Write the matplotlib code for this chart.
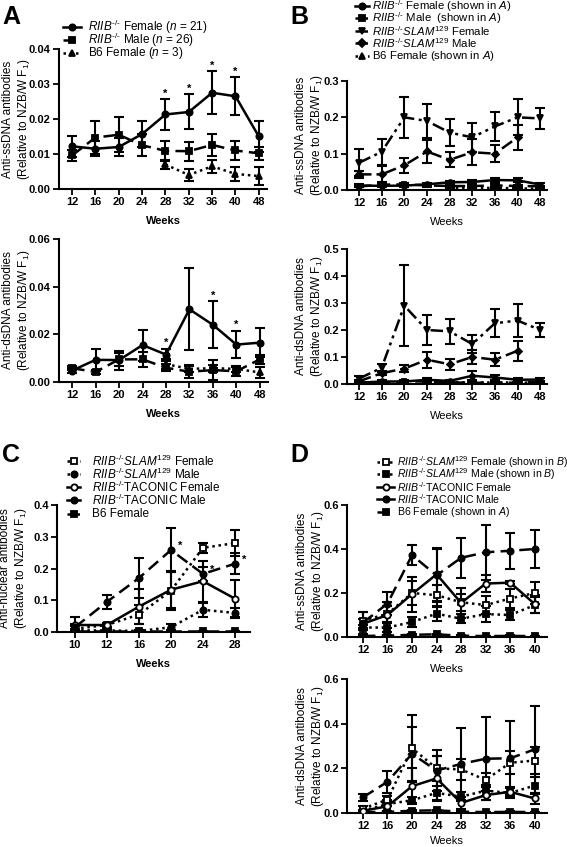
import numpy as np
import matplotlib
matplotlib.use('Agg')
import matplotlib.pyplot as plt
from matplotlib.lines import Line2D

plt.rcParams['font.family'] = ['Liberation Sans', 'DejaVu Sans']
plt.rcParams['mathtext.fontset'] = 'custom'
plt.rcParams['mathtext.rm'] = 'Liberation Sans'
plt.rcParams['mathtext.it'] = 'Liberation Sans:italic'
plt.rcParams['mathtext.bf'] = 'Liberation Sans:bold'

nan = np.nan

# ---------------- data ----------------
weeks_ab = [12, 16, 20, 24, 28, 32, 36, 40, 48]
weeks_c = [10, 12, 16, 20, 24, 28]
weeks_d = [12, 16, 20, 24, 28, 32, 36, 40]

# panel A, anti-ssDNA
ss_f = [0.0122, 0.0115, 0.0120, 0.0157, 0.0213, 0.0220, 0.0275, 0.0265, 0.0150]
ss_f_err = [0.0030, 0.0022, 0.0025, 0.0038, 0.0045, 0.0050, 0.0062, 0.0055, 0.0043]
ss_m = [0.0096, 0.0147, 0.0155, 0.0125, 0.0109, 0.0108, 0.0126, 0.0110, 0.0102]
ss_m_err = [0.0015, 0.0048, 0.0050, 0.0032, 0.0028, 0.0027, 0.0032, 0.0028, 0.0018]
ss_b6 = [nan, nan, nan, nan, 0.0070, 0.0040, 0.0065, 0.0043, 0.0037]
ss_b6_err = [nan, nan, nan, nan, 0.0012, 0.0017, 0.0018, 0.0020, 0.0025]
ss_star = [28, 32, 36, 40]

# panel A, anti-dsDNA
ds_f = [0.0048, 0.0093, 0.0092, 0.0155, 0.0115, 0.0305, 0.0240, 0.0157, 0.0165]
ds_f_err = [0.0010, 0.0047, 0.0040, 0.0065, 0.0025, 0.0172, 0.0098, 0.0058, 0.0060]
ds_m = [0.0058, 0.0042, 0.0095, 0.0095, 0.0060, 0.0043, 0.0050, 0.0045, 0.0095]
ds_m_err = [0.0008, 0.0008, 0.0028, 0.0030, 0.0015, 0.0025, 0.0042, 0.0018, 0.0020]
ds_b6 = [nan, nan, nan, nan, 0.0075, 0.0055, 0.0058, 0.0055, 0.0040]
ds_b6_err = [nan, nan, nan, nan, 0.0020, 0.0015, 0.0015, 0.0012, 0.0022]
ds_star = [28, 36, 40]

# panel B, SLAM129
slam_ss_f = [0.075, 0.105, 0.200, 0.190, 0.158, 0.145, 0.175, 0.200, 0.197]
slam_ss_f_err = [0.037, 0.036, 0.056, 0.047, 0.038, 0.040, 0.041, 0.050, 0.029]
slam_ss_m = [0.043, 0.043, 0.068, 0.106, 0.083, 0.104, 0.100, 0.145, nan]
slam_ss_m_err = [0.010, 0.022, 0.021, 0.031, 0.021, 0.035, 0.023, 0.035, nan]
slam_ds_f = [0.020, 0.060, 0.290, 0.200, 0.195, 0.148, 0.225, 0.235, 0.200]
slam_ds_f_err = [0.010, 0.015, 0.150, 0.056, 0.046, 0.032, 0.052, 0.060, 0.026]
slam_ds_m = [0.010, 0.040, 0.057, 0.090, 0.073, 0.100, 0.090, 0.123, nan]
slam_ds_m_err = [0.005, 0.008, 0.013, 0.030, 0.020, 0.025, 0.023, 0.037, nan]

# panel C, anti-nuclear
ana_slam_f = [0.010, 0.022, 0.055, 0.130, 0.265, 0.280]
ana_slam_f_err = [0.008, 0.006, 0.030, 0.060, 0.015, 0.042]
ana_slam_m = [0.005, 0.005, 0.003, 0.015, 0.070, 0.060]
ana_slam_m_err = [0.003, 0.003, 0.002, 0.010, 0.022, 0.015]
ana_tac_f = [0.022, 0.022, 0.080, 0.133, 0.160, 0.105]
ana_tac_f_err = [0.025, 0.005, 0.055, 0.058, 0.065, 0.058]
ana_tac_m = [0.015, 0.095, 0.170, 0.258, 0.183, 0.215]
ana_tac_m_err = [0.010, 0.023, 0.062, 0.070, 0.022, 0.033]
ana_b6 = [0.002, 0.002, 0.002, 0.002, 0.002, 0.002]
ana_b6_err = [0.001, 0.001, 0.001, 0.001, 0.001, 0.001]
ana_star = [20, 24, 28]

# panel D, TACONIC
tac_ss_f = [0.060, 0.100, 0.195, 0.285, 0.155, 0.243, 0.247, 0.150]
tac_ss_f_err = [0.020, 0.060, 0.080, 0.120, 0.070, 0.040, 0.008, 0.040]
tac_ss_m = [0.065, 0.152, 0.372, 0.280, 0.360, 0.385, 0.392, 0.400]
tac_ss_m_err = [0.050, 0.053, 0.046, 0.120, 0.090, 0.125, 0.083, 0.088]
b6_ss_d = [0.005, 0.006, 0.010, 0.012, 0.006, 0.004, 0.005, 0.004]
tac_ds_f = [0.010, 0.030, 0.120, 0.155, 0.045, 0.080, 0.095, 0.065]
tac_ds_f_err = [0.005, 0.030, 0.080, 0.100, 0.025, 0.020, 0.020, 0.025]
tac_ds_m = [0.070, 0.140, 0.265, 0.190, 0.220, 0.243, 0.245, 0.285]
tac_ds_m_err = [0.015, 0.050, 0.120, 0.090, 0.160, 0.187, 0.165, 0.195]
b6_ds_d = [0.004, 0.005, 0.010, 0.012, 0.006, 0.004, 0.005, 0.004]

# ---------------- styles ----------------
SOLID = '-'
DASH = (0, (5, 2.5))
DOT = (0, (1, 1.5))
DASHDOT = (0, (5, 2, 1.2, 2))
DASHDOTDOT = (0, (5, 1.8, 1.2, 1.8, 1.2, 1.8))

W, H = 567, 847
fig = plt.figure(figsize=(W / 100, H / 100), dpi=100)


def rect(l, r, t, b):
    return [l / W, 1 - b / H, (r - l) / W, (b - t) / H]


def series(ax, y, err, ls, marker, mfc='k', ms=4.5, lw=1.8):
    x = np.arange(len(y))
    y = np.array(y, dtype=float)
    ax.errorbar(x, y, yerr=err, fmt='none', ecolor='k', elinewidth=1.5,
                capsize=3.5, capthick=1.5, zorder=2)
    ax.plot(x, y, color='k', ls=ls, lw=lw, marker=marker, ms=ms,
            mfc=mfc, mec='k', mew=1.3, zorder=3)


def style(ax, weeks, ylim, yticks, yfmt, ylabel, xlim, label_x, bold_weeks=True,
          weeks_pad=6):
    ax.set_xlim(*xlim)
    ax.set_ylim(*ylim)
    ax.set_xticks(np.arange(len(weeks)))
    ax.set_xticklabels([str(w) for w in weeks], fontweight='bold', fontsize=8)
    ax.set_yticks(yticks)
    ax.set_yticklabels([yfmt % v for v in yticks], fontweight='bold', fontsize=8)
    for s in ['top', 'right']:
        ax.spines[s].set_visible(False)
    for s in ['left', 'bottom']:
        ax.spines[s].set_linewidth(1.5)
    ax.tick_params(width=1.3, length=4, pad=2)
    ax.set_ylabel(ylabel, fontsize=8.5, linespacing=1.15)
    # place the two-line label by its centre, in figure pixels
    bb = ax.get_position()
    ax.yaxis.set_label_coords((label_x / W - bb.x0) / bb.width, 0.5)
    ax.yaxis.label.set_va('center')
    ax.set_xlabel('Weeks', fontsize=8, fontweight='bold' if bold_weeks else 'normal',
                  labelpad=weeks_pad)


def stars(ax, weeks, sel, y, err, dy, dx=0.0):
    for w in sel:
        i = weeks.index(w)
        ax.text(i + dx, y[i] + err[i] + dy, '*', ha='center', va='center',
                fontsize=8, fontweight='bold')


def legend(entries, x0, x1, xt, ys, fs=8.2):
    for (ls, marker, mfc, label), y in zip(entries, ys):
        yy = 1 - y / H
        fig.add_artist(Line2D([x0 / W, x1 / W], [yy, yy], transform=fig.transFigure,
                              color='k', ls=ls, lw=1.8))
        fig.add_artist(Line2D([(x0 + x1) / 2 / W], [yy], transform=fig.transFigure,
                              color='k', ls='none', marker=marker, ms=4.5,
                              mfc=mfc, mec='k', mew=1.3))
        fig.text(xt / W, yy, label, ha='left', va='center', fontsize=fs)


RIIB = r'$\mathit{RIIB}^{\text{-/-}}$'
SLAM = r'$\mathit{RIIB}^{\text{-/-}}\mathit{SLAM}^{\text{129}}$'
YSS = 'Anti-ssDNA antibodies\n(Relative to NZB/W F$_1$)'
YDS = 'Anti-dsDNA antibodies\n(Relative to NZB/W F$_1$)'
YANA = 'Anti-nuclear antibodies\n(Relative to NZB/W F$_1$)'

# ---------------- panel A ----------------
ax = fig.add_axes(rect(59, 267, 49, 189))
series(ax, ss_b6, ss_b6_err, DOT, '^')
series(ax, ss_m, ss_m_err, DASH, 's')
series(ax, ss_f, ss_f_err, SOLID, 'o')
stars(ax, weeks_ab, ss_star, ss_f, ss_f_err, 0.0015)
style(ax, weeks_ab, (0, 0.04), [0, 0.01, 0.02, 0.03, 0.04], '%.2f', YSS,
      (-0.56, 8.35), 17)

ax = fig.add_axes(rect(59, 268, 239, 382))
series(ax, ds_b6, ds_b6_err, DOT, '^')
series(ax, ds_m, ds_m_err, DASH, 's')
series(ax, ds_f, ds_f_err, SOLID, 'o')
stars(ax, weeks_ab, ds_star, ds_f, ds_f_err, 0.0025)
style(ax, weeks_ab, (0, 0.06), [0, 0.02, 0.04, 0.06], '%.2f', YDS,
      (-0.56, 8.35), 17)

legend([(SOLID, 'o', 'k', RIIB + r' Female ($\mathit{n}$ = 21)'),
        (DASH, 's', 'k', RIIB + r' Male ($\mathit{n}$ = 26)'),
        (DOT, '^', 'k', r'B6 Female ($\mathit{n}$ = 3)')],
       63, 81, 88, [27, 40, 53], fs=8.5)
fig.text(2 / W, 1 - 17 / H, 'A', fontsize=18, fontweight='bold', va='center')

# ---------------- panel B ----------------
ax = fig.add_axes(rect(347, 547, 81, 190))
series(ax, slam_ss_f, slam_ss_f_err, DASHDOTDOT, 'v')
series(ax, slam_ss_m, slam_ss_m_err, DASHDOT, 'D', ms=3.5)
series(ax, ss_b6, ss_b6_err, DOT, '^', ms=3.5)
series(ax, ss_m, ss_m_err, DASH, 's', ms=3.5)
series(ax, ss_f, ss_f_err, SOLID, 'o', ms=3.5)
style(ax, weeks_ab, (0, 0.3), [0, 0.1, 0.2, 0.3], '%.1f', YSS, (-0.53, 8.3),
      310, bold_weeks=False)

ax = fig.add_axes(rect(347, 547, 249, 384))
series(ax, slam_ds_f, slam_ds_f_err, DASHDOTDOT, 'v')
series(ax, slam_ds_m, slam_ds_m_err, DASHDOT, 'D', ms=3.5)
series(ax, ds_b6, ds_b6_err, DOT, '^', ms=3.5)
series(ax, ds_m, ds_m_err, DASH, 's', ms=3.5)
series(ax, ds_f, ds_f_err, SOLID, 'o', ms=3.5)
style(ax, weeks_ab, (0, 0.5), [0, 0.1, 0.2, 0.3, 0.4, 0.5], '%.1f', YDS,
      (-0.53, 8.3), 310, bold_weeks=False)

legend([(SOLID, 'o', 'k', RIIB + r' Female (shown in $\mathit{A}$)'),
        (DASH, 's', 'k', RIIB + r' Male  (shown in $\mathit{A}$)'),
        (DASHDOTDOT, 'v', 'k', SLAM + ' Female'),
        (DASHDOT, 'D', 'k', SLAM + ' Male'),
        (DOT, '^', 'k', r'B6 Female (shown in $\mathit{A}$)')],
       355, 369, 372, [6, 18.5, 31, 43.5, 56])
fig.text(290 / W, 1 - 17 / H, 'B', fontsize=18, fontweight='bold', va='center')

# ---------------- panel C ----------------
ax = fig.add_axes(rect(57, 250, 505, 632))
series(ax, ana_b6, ana_b6_err, DASH, 's')
series(ax, ana_slam_m, ana_slam_m_err, DOT, 'o')
series(ax, ana_slam_f, ana_slam_f_err, DOT, 's', mfc='white')
series(ax, ana_tac_f, ana_tac_f_err, SOLID, 'o', mfc='white')
series(ax, ana_tac_m, ana_tac_m_err, DASH, 'o')
for w in ana_star:
    i = weeks_c.index(w)
    ax.text(i + 0.3, ana_tac_m[i] + 0.012, '*', ha='center', va='center',
            fontsize=8, fontweight='bold')
style(ax, weeks_c, (0, 0.4), [0, 0.1, 0.2, 0.3, 0.4], '%.1f', YANA,
      (-0.56, 5.47), 14)

legend([(DOT, 's', 'white', SLAM + ' Female'),
        (DOT, 'o', 'k', SLAM + ' Male'),
        (SOLID, 'o', 'white', RIIB + 'TACONIC Female'),
        (SOLID, 'o', 'k', RIIB + 'TACONIC Male'),
        (DASH, 's', 'k', 'B6 Female')],
       67, 80, 92, [461, 474, 487, 500, 514], fs=8.5)
fig.text(2 / W, 1 - 455 / H, 'C', fontsize=18, fontweight='bold', va='center')

# ---------------- panel D ----------------
ax = fig.add_axes(rect(347, 547, 505, 637))
series(ax, b6_ss_d, [0.002] * 8, DASH, 's')
series(ax, slam_ss_m[:8], slam_ss_m_err[:8], DOT, 's')
series(ax, slam_ss_f[:8], slam_ss_f_err[:8], DOT, 's', mfc='white')
series(ax, tac_ss_f, tac_ss_f_err, SOLID, 'o', mfc='white')
series(ax, tac_ss_m, tac_ss_m_err, DASH, 'o')
style(ax, weeks_d, (0, 0.6), [0, 0.2, 0.4, 0.6], '%.1f', YSS, (-0.65, 7.5),
      311, bold_weeks=False)

ax = fig.add_axes(rect(347, 547, 679, 813))
series(ax, b6_ds_d, [0.002] * 8, DASH, 's')
series(ax, slam_ds_m[:8], slam_ds_m_err[:8], DOT, 's')
series(ax, slam_ds_f[:8], slam_ds_f_err[:8], DOT, 's', mfc='white')
series(ax, tac_ds_f, tac_ds_f_err, SOLID, 'o', mfc='white')
series(ax, tac_ds_m, tac_ds_m_err, DASH, 'o')
style(ax, weeks_d, (0, 0.6), [0, 0.2, 0.4, 0.6], '%.1f', YDS, (-0.65, 7.5),
      311, bold_weeks=False, weeks_pad=3)

legend([(DOT, 's', 'white', SLAM + r' Female (shown in $\mathit{B}$)'),
        (DOT, 's', 'k', SLAM + r' Male (shown in $\mathit{B}$)'),
        (SOLID, 'o', 'white', RIIB + 'TACONIC Female'),
        (SOLID, 'o', 'k', RIIB + 'TACONIC Male'),
        (DASH, 's', 'k', r'B6 Female (shown in $\mathit{A}$)')],
       377, 394, 397, [462, 474, 487, 499, 512], fs=7.6)
fig.text(290 / W, 1 - 455 / H, 'D', fontsize=18, fontweight='bold', va='center')

fig.savefig('out.png', dpi=100)
